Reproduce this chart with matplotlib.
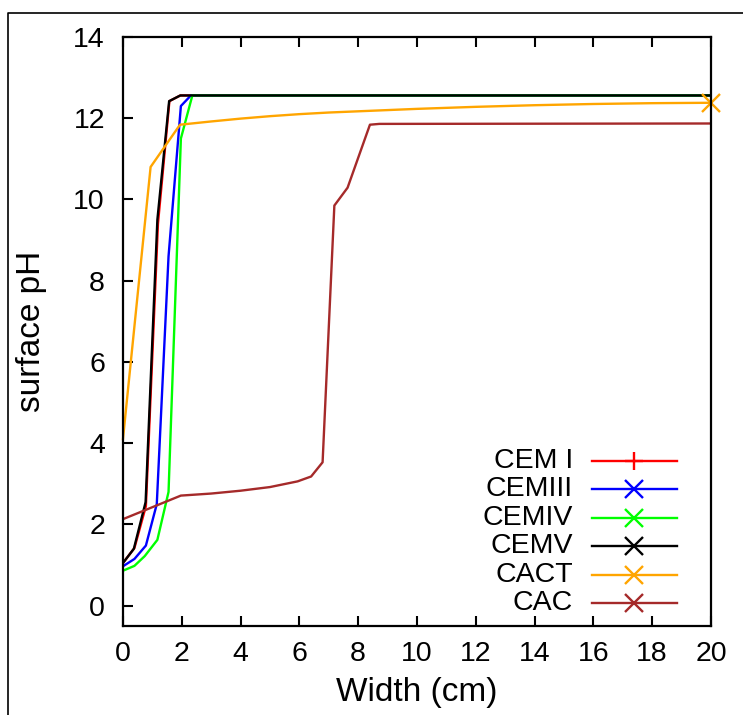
import matplotlib
matplotlib.use("Agg")
import matplotlib.pyplot as plt
from matplotlib.lines import Line2D

plt.rcParams["font.family"] = ["Liberation Sans", "DejaVu Sans"]

# surface pH vs width
cem1_x = [0, 0.39, 0.78, 1.19, 1.58, 1.95, 20]
cem1_y = [1.05, 1.42, 2.45, 9.4, 12.42, 12.56, 12.56]

cem3_x = [0, 0.39, 0.78, 1.15, 1.55, 1.97, 2.31, 20]
cem3_y = [0.97, 1.15, 1.48, 2.5, 8.6, 12.3, 12.56, 12.56]

cem4_x = [0, 0.39, 0.74, 1.17, 1.55, 1.97, 2.36, 20]
cem4_y = [0.86, 0.98, 1.22, 1.62, 2.8, 11.5, 12.56, 12.56]

cem5_x = [0, 0.37, 0.77, 1.17, 1.57, 1.95, 20]
cem5_y = [1.05, 1.4, 2.55, 9.5, 12.42, 12.56, 12.56]

cact_x = [0, 0.94, 1.94, 3, 4, 5, 6, 7, 8, 10, 12, 14, 16, 18, 20]
cact_y = [4.1, 10.8, 11.84, 11.92, 11.99, 12.05, 12.1, 12.14, 12.17, 12.23,
          12.28, 12.32, 12.35, 12.37, 12.38]

cac_x = [0, 1.97, 3, 4, 5, 5.94, 6.4, 6.79, 7.19, 7.64, 8.4, 8.72, 20]
cac_y = [2.13, 2.71, 2.76, 2.83, 2.92, 3.06, 3.18, 3.53, 9.85, 10.29, 11.84,
         11.86, 11.87]

series = [
    ("CEM I", cem1_x, cem1_y, "#ff0000", "+"),
    ("CEMIII", cem3_x, cem3_y, "#0000ff", "x"),
    ("CEMIV", cem4_x, cem4_y, "#00ff00", "x"),
    ("CEMV", cem5_x, cem5_y, "#000000", "x"),
    ("CACT", cact_x, cact_y, "#ffa500", "x"),
    ("CAC", cac_x, cac_y, "#a52a2a", "x"),
]

fig = plt.figure(figsize=(7.43, 7.15), dpi=100)
ax = fig.add_axes([0.1655, 0.1245, 0.7914, 0.8238])

for name, xs, ys, col, mk in series:
    if name == "CACT":
        ax.plot(xs, ys, color=col, lw=1.7, marker=mk, ms=13, mew=1.7,
                markevery=[-1], clip_on=False)
    else:
        ax.plot(xs, ys, color=col, lw=1.7)

ax.set_xlim(0, 20)
ax.set_ylim(-0.5, 14)
ax.set_xticks(range(0, 21, 2))
ax.set_yticks(range(0, 15, 2))
ax.tick_params(direction="in", length=7, width=1.5, labelsize=20.5,
               top=True, right=False)
ax.tick_params(axis="y", pad=13)
ax.tick_params(axis="x", pad=11)
for s in ax.spines.values():
    s.set_linewidth(1.6)

ax.set_xlabel("Width (cm)", fontsize=24, labelpad=7)
ax.set_ylabel("surface pH", fontsize=24, labelpad=19)

# gnuplot-style key: text right-aligned, sample line on the right
rows = [0.2807, 0.2321, 0.1834, 0.1353, 0.0871, 0.0390]
for (name, xs, ys, col, mk), ry in zip(series, rows):
    ax.text(0.765, ry, name, transform=ax.transAxes, ha="right",
            va="center", fontsize=20.5)
    ax.add_line(Line2D([0.797, 0.943], [ry, ry], transform=ax.transAxes,
                       color=col, lw=1.7))
    ax.add_line(Line2D([0.869], [ry], transform=ax.transAxes, color=col,
                       marker=mk, ms=13, mew=1.7, ls="none"))

# outer frame
fig.add_artist(Line2D([0.0108, 0.0108, 1.0], [0.0, 0.9818, 0.9818],
                      color="black", lw=1.2))

fig.savefig("out.png", dpi=100)
